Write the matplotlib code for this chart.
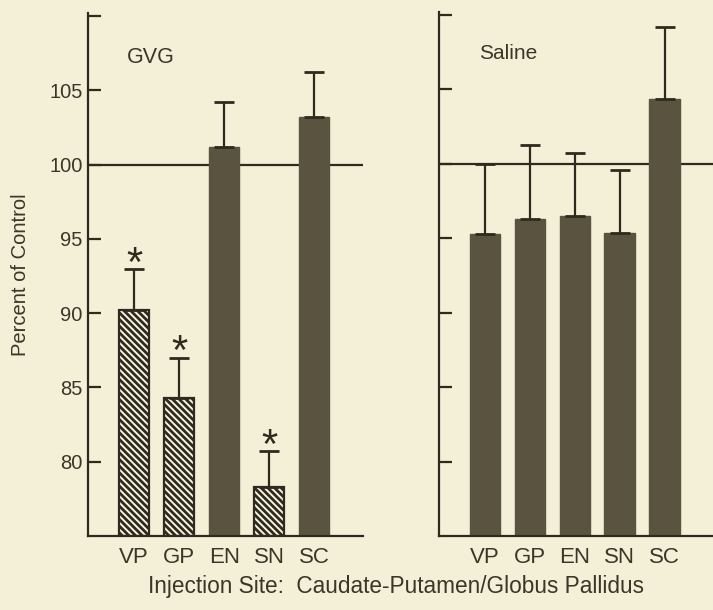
import matplotlib
matplotlib.use("Agg")
import matplotlib.pyplot as plt

# data
sites = ["VP", "GP", "EN", "SN", "SC"]
gvg_mean = [90.2, 84.3, 101.2, 78.3, 103.2]
gvg_sem = [2.75, 2.7, 3.05, 2.4, 3.05]
gvg_hatched = [True, True, False, True, False]
gvg_signif = [True, True, False, True, False]

saline_mean = [95.3, 96.3, 96.5, 95.35, 104.35]
saline_sem = [4.7, 5.0, 4.2, 4.25, 4.85]

BG = "#f4efd7"
INK = "#2e2a1e"
BAR = "#5a533f"
TXT = "#3a3628"

plt.rcParams["font.family"] = ["Liberation Sans", "DejaVu Sans"]
plt.rcParams["hatch.linewidth"] = 2.0
plt.rcParams["hatch.color"] = INK

fig = plt.figure(figsize=(7.13, 6.10), dpi=100, facecolor=BG)
ax1 = fig.add_axes([0.1234, 0.1213, 0.3857, 0.857])
ax2 = fig.add_axes([0.6161, 0.1213, 0.3839, 0.859])

x = list(range(len(sites)))


def style(ax, labels):
    ax.set_facecolor(BG)
    ax.set_xlim(-1.02, 5.08)
    ax.set_ylim(75, 110.2)
    for s in ("top", "right"):
        ax.spines[s].set_visible(False)
    for s in ("left", "bottom"):
        ax.spines[s].set_linewidth(1.6)
        ax.spines[s].set_color(INK)
    ax.set_yticks([80, 85, 90, 95, 100, 105, 110])
    if labels:
        ax.set_yticklabels(["80", "85", "90", "95", "100", "105", ""])
    else:
        ax.set_yticklabels([])
    ax.tick_params(axis="y", direction="in", length=9, width=1.6, color=INK,
                   labelsize=14.5, labelcolor=TXT, pad=4)
    ax.set_xticks(x)
    ax.set_xticklabels(sites)
    ax.tick_params(axis="x", length=0, labelsize=16, labelcolor=TXT, pad=8)
    ax.axhline(100, color=INK, lw=1.6, zorder=1)


style(ax1, True)
style(ax2, False)

# GVG panel
for i in x:
    if gvg_hatched[i]:
        ax1.bar(i, gvg_mean[i] - 75, bottom=75, width=0.67, color="#f8f4e2",
                edgecolor=INK, hatch="\\" * 5, linewidth=1.6, zorder=2)
    else:
        ax1.bar(i, gvg_mean[i] - 75, bottom=75, width=0.67, color=BAR,
                edgecolor=BAR, linewidth=1, zorder=2)
ax1.errorbar(x, gvg_mean, yerr=[[0] * 5, gvg_sem], fmt="none", ecolor=INK,
             elinewidth=1.6, capsize=7.5, capthick=2, zorder=3)
for i in x:
    if gvg_signif[i]:
        ax1.annotate("*", xy=(i, gvg_mean[i] + gvg_sem[i]), xytext=(0, -11),
                     textcoords="offset points", ha="center", va="bottom",
                     fontsize=30, color=INK)
ax1.text(0.14, 0.916, "GVG", transform=ax1.transAxes, fontsize=15.5,
         color=TXT, va="center", ha="left")
ax1.set_ylabel("Percent of Control", fontsize=14.5, color=TXT, labelpad=14)

# Saline panel
ax2.bar(x, [m - 75 for m in saline_mean], bottom=75, width=0.68, color=BAR,
        edgecolor=BAR, linewidth=1, zorder=2)
ax2.errorbar(x, saline_mean, yerr=[[0] * 5, saline_sem], fmt="none", ecolor=INK,
             elinewidth=1.6, capsize=7.5, capthick=2, zorder=3)
ax2.text(0.146, 0.921, "Saline", transform=ax2.transAxes, fontsize=15,
         color=TXT, va="center", ha="left")

fig.text(0.556, 0.038, "Injection Site:  Caudate-Putamen/Globus Pallidus",
         ha="center", va="center", fontsize=16.3, color=TXT)

fig.savefig("out.png", dpi=100, facecolor=BG)
